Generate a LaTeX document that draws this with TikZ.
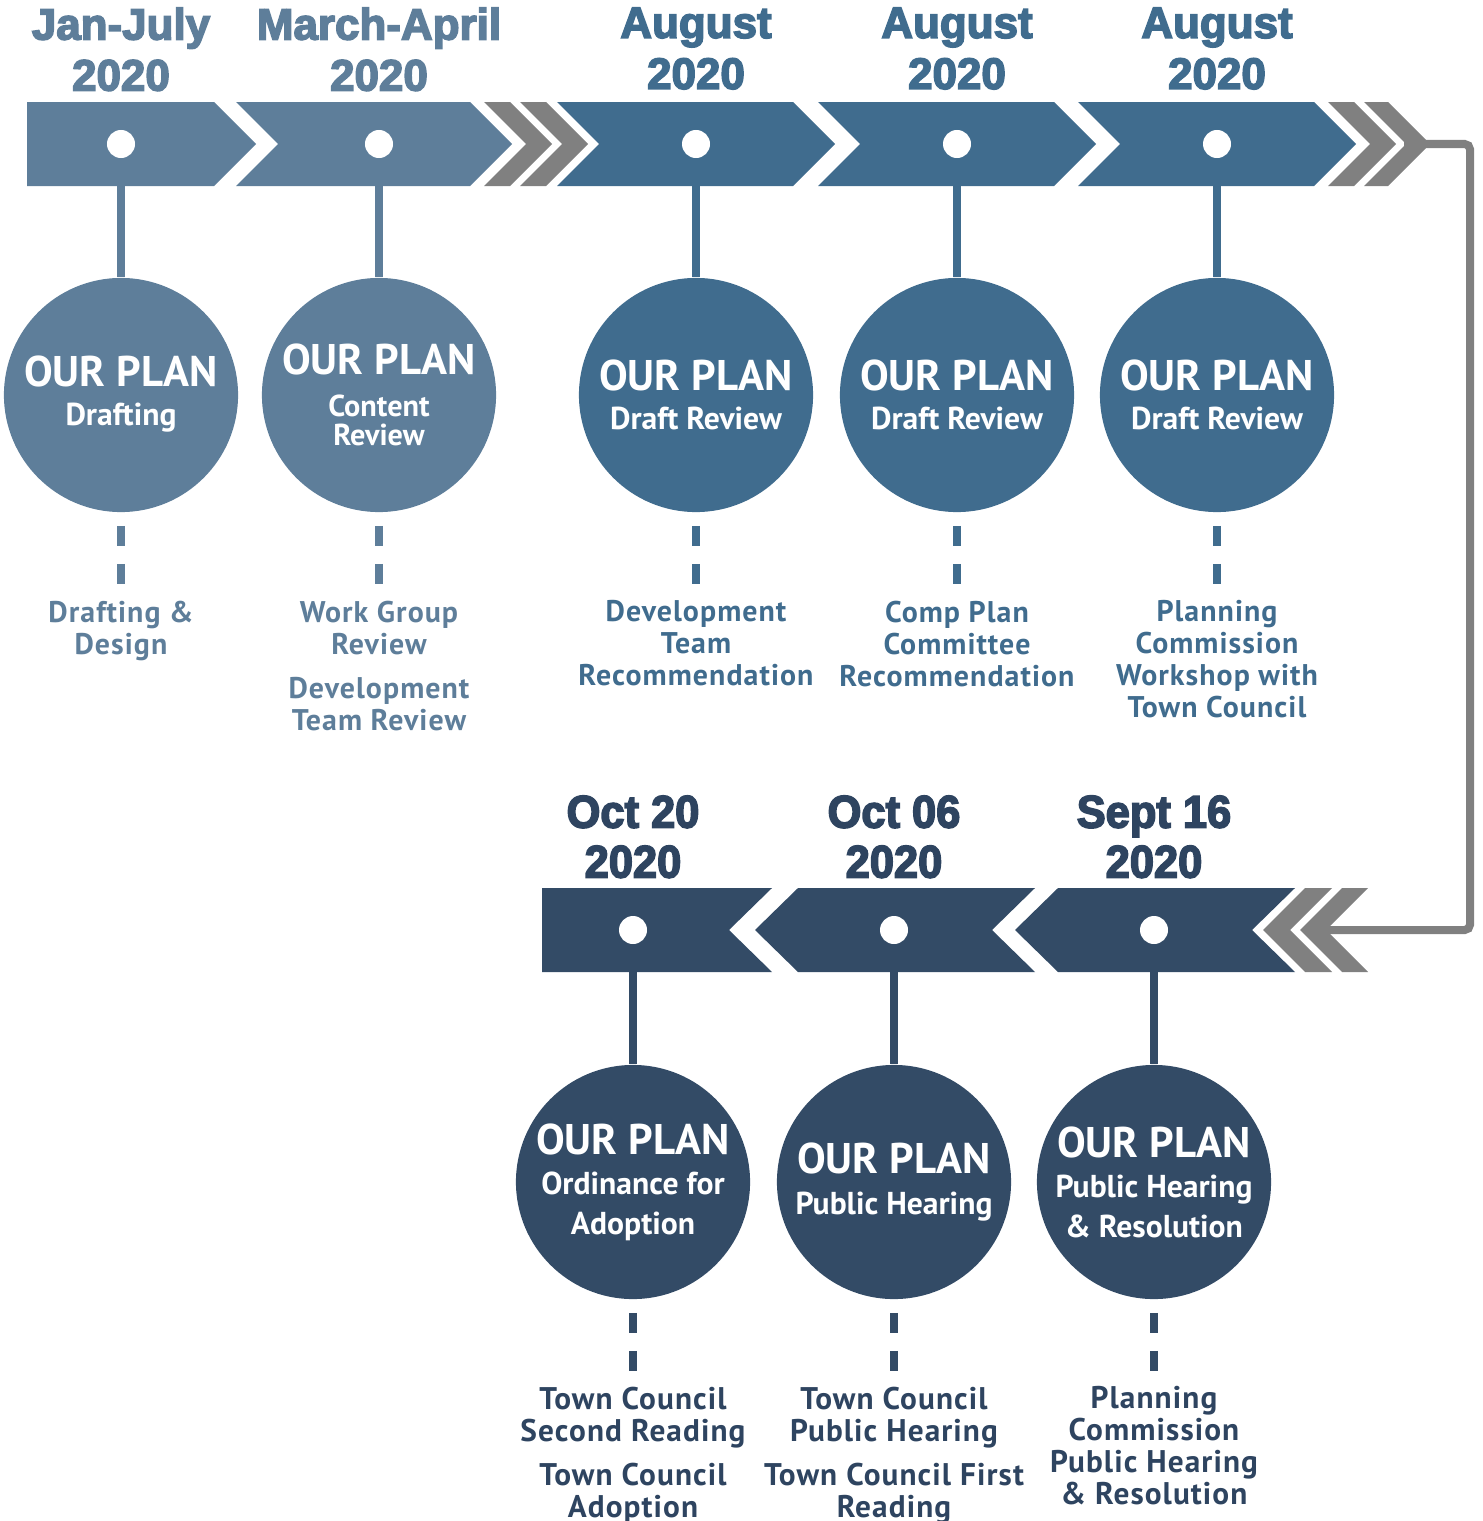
\documentclass[tikz,border=0pt]{standalone}
\usepackage{fontspec}
\newfontfamily\datefont{Liberation Sans Bold}[FakeBold=3.5]
\newfontfamily\bdatefont{Liberation Sans Bold}[FakeBold=3.5, FakeStretch=0.95]
\newfontfamily\circfont{PT Sans Bold}
\newfontfamily\labfont{PT Sans Bold}[LetterSpace=3.5]
\definecolor{cA}{RGB}{94,126,154}
\definecolor{cB}{RGB}{64,108,142}
\definecolor{cC}{RGB}{51,75,102}
\definecolor{tC}{RGB}{46,68,96}
\definecolor{gr}{RGB}{128,128,128}
\newcommand\ourplan{{\fontsize{12.2}{12.2}\selectfont OUR PLAN}}
\tikzset{
  seg/.style={fill=#1, draw=none},
  stripe/.style={fill=gr, draw=none},
  dot/.style={circle, fill=white, minimum size=0.28cm, inner sep=0pt},
  bubble/.style={circle, fill=#1, minimum size=2.34cm, inner sep=0pt, text=white, align=center,
    font=\circfont\fontsize{9}{11.4}\selectfont},
  stem/.style={draw=#1, line width=0.08cm},
  dashstem/.style={draw=#1, line width=0.08cm, dash pattern=on 0pt off 0.13cm on 0.2cm off 0.18cm on 0.2cm off 3cm},
  lab/.style={text=#1, align=center, anchor=north, inner sep=0pt,
    font=\labfont\fontsize{8.5}{9.1}\selectfont},
  blab/.style={text=#1, align=center, anchor=north, inner sep=0pt,
    font=\labfont\fontsize{8.9}{9.1}\selectfont},
  datelab/.style={text=#1, align=center, anchor=north, inner sep=0pt,
    font=\datefont\fontsize{12.5}{14.5}\selectfont},
  bdatelab/.style={text=#1, align=center, anchor=north, inner sep=0pt,
    font=\bdatefont\fontsize{13}{14.2}\selectfont},
  gline/.style={draw=gr, line width=0.08cm, rounded corners=1.5pt}
}
\begin{document}
\begin{tikzpicture}[x=0.01cm, y=-0.01cm]
\useasboundingbox (0,0) rectangle (1483,1521);

% ---------- top band ----------
\fill[seg=cA] (27,102) -- (214,102) -- (256,144) -- (214,186) -- (27,186) -- cycle;
\fill[seg=cA] (236,102) -- (470,102) -- (512,144) -- (470,186) -- (236,186) -- (278,144) -- cycle;
\fill[stripe] (484,102) -- (510,102) -- (552,144) -- (510,186) -- (484,186) -- (526,144) -- cycle;
\fill[stripe] (520,102) -- (546,102) -- (588,144) -- (546,186) -- (520,186) -- (562,144) -- cycle;
\fill[seg=cB] (557,102) -- (793,102) -- (835,144) -- (793,186) -- (557,186) -- (599,144) -- cycle;
\fill[seg=cB] (818,102) -- (1054,102) -- (1096,144) -- (1054,186) -- (818,186) -- (860,144) -- cycle;
\fill[seg=cB] (1078,102) -- (1314,102) -- (1356,144) -- (1314,186) -- (1078,186) -- (1120,144) -- cycle;
\fill[stripe] (1328,102) -- (1354,102) -- (1396,144) -- (1354,186) -- (1328,186) -- (1370,144) -- cycle;
\fill[stripe] (1364,102) -- (1388,102) -- (1430,144) -- (1388,186) -- (1364,186) -- (1406,144) -- cycle;

% ---------- bottom band ----------
\fill[seg=cC] (542,888) -- (772,888) -- (729,930) -- (772,972) -- (542,972) -- cycle;
\fill[seg=cC] (798,888) -- (1035,888) -- (992,930) -- (1035,972) -- (798,972) -- (755,930) -- cycle;
\fill[seg=cC] (1058,888) -- (1295,888) -- (1252,930) -- (1295,972) -- (1058,972) -- (1015,930) -- cycle;
\fill[stripe] (1305,888) -- (1332,888) -- (1290,930) -- (1332,972) -- (1305,972) -- (1263,930) -- cycle;
\fill[stripe] (1342,888) -- (1368,888) -- (1326,930) -- (1368,972) -- (1342,972) -- (1300,930) -- cycle;

% ---------- gray connector ----------
\coordinate (gstart) at (1404,144);
\coordinate (gc1) at (1470,144);
\coordinate (gc2) at (1470,930);
\coordinate (gend) at (1324,930);
\draw[gline] (gstart) -- (gc1) -- (gc2) -- (gend);

% ---------- dates ----------
\node[datelab=cA] (t1) at (121,7) {Jan-July\\2020};
\node[datelab=cA] (t2) at (379,7) {March-April\\2020};
\node[datelab=cB] (t3) at (696,7) {August\\2020};
\node[datelab=cB] (t4) at (957,7) {August\\2020};
\node[datelab=cB] (t5) at (1217,7) {August\\2020};
\node[bdatelab=tC] (b1t) at (633,795) {Oct 20\\2020};
\node[bdatelab=tC] (b2t) at (894,795) {Oct 06\\2020};
\node[bdatelab=tC] (b3t) at (1154,795) {Sept 16\\2020};

% ---------- dots ----------
\node[dot] (d1) at (121,144) {};
\node[dot] (d2) at (379,144) {};
\node[dot] (d3) at (696,144) {};
\node[dot] (d4) at (957,144) {};
\node[dot] (d5) at (1217,144) {};
\node[dot] (e1) at (633,930) {};
\node[dot] (e2) at (894,930) {};
\node[dot] (e3) at (1154,930) {};

% ---------- bubbles ----------
\node[bubble=cA] (c1) at (121,395) {\ourplan\\[-0.3pt]Drafting\rule[-2.6pt]{0pt}{1pt}};
\node[bubble=cA] (c2) at (379,395) {{\fontsize{12.2}{12.2}\selectfont OUR PLAN}\\[0.5pt]{\fontsize{8.6}{8.6}\selectfont Content}\\[-3.1pt]{\fontsize{8.6}{8.6}\selectfont Review}};
\node[bubble=cB] (c3) at (696,395) {\ourplan\\[-0.3pt]Draft Review};
\node[bubble=cB] (c4) at (957,395) {\ourplan\\[-0.3pt]Draft Review};
\node[bubble=cB] (c5) at (1217,395) {\ourplan\\[-0.3pt]Draft Review};
\node[bubble=cC] (f1) at (633,1182) {\ourplan\\[0pt]Ordinance for\\Adoption};
\node[bubble=cC] (f2) at (894,1182) {\ourplan\\[0pt]Public Hearing};
\node[bubble=cC] (f3) at (1154,1182) {\ourplan\\[0pt]Public Hearing\\\& Resolution};

% ---------- stems ----------
\draw[stem=cA] (d1) -- (c1);
\draw[stem=cA] (d2) -- (c2);
\draw[stem=cB] (d3) -- (c3);
\draw[stem=cB] (d4) -- (c4);
\draw[stem=cB] (d5) -- (c5);
\draw[stem=cC] (e1) -- (f1);
\draw[stem=cC] (e2) -- (f2);
\draw[stem=cC] (e3) -- (f3);

% ---------- labels ----------
\node[lab=cA] (l1) at (121,600) {Drafting \&\\Design};
\node[lab=cA] (l2) at (379,600) {Work Group\\Review\\[3.4pt]Development\\Team Review};
\node[lab=cB] (l3) at (696,600) {Development\\Team\\Recommendation};
\node[lab=cB] (l4) at (957,600) {Comp Plan\\Committee\\Recommendation};
\node[lab=cB] (l5) at (1217,600) {Planning\\Commission\\Workshop with\\Town Council};
\node[blab=tC] (m1) at (633,1386) {Town Council\\Second Reading\\[3.4pt]Town Council\\Adoption};
\node[blab=tC] (m2) at (894,1386) {Town Council\\Public Hearing\\[3.4pt]Town Council First\\Reading};
\node[blab=tC] (m3) at (1154,1386) {Planning\\Commission\\Public Hearing\\\& Resolution};

% ---------- dashed links ----------
\draw[dashstem=cA] (c1) -- (l1);
\draw[dashstem=cA] (c2) -- (l2);
\draw[dashstem=cB] (c3) -- (l3);
\draw[dashstem=cB] (c4) -- (l4);
\draw[dashstem=cB] (c5) -- (l5);
\draw[dashstem=cC] (f1) -- (m1);
\draw[dashstem=cC] (f2) -- (m2);
\draw[dashstem=cC] (f3) -- (m3);
\end{tikzpicture}
\end{document}
